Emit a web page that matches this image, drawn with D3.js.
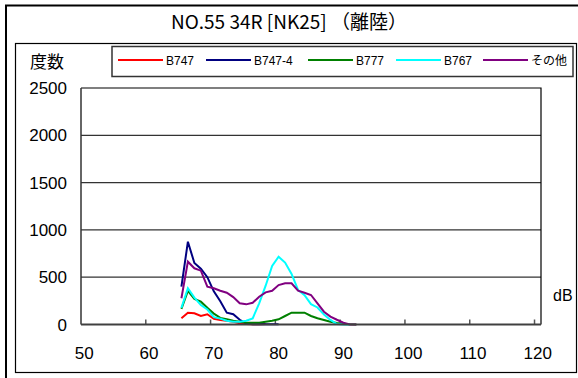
<!DOCTYPE html>
<html><head><meta charset="utf-8">
<script src="https://cdn.jsdelivr.net/npm/d3@7"></script>
<style>body{margin:0;background:#fff}svg{display:block}text{font-family:"Liberation Sans",Arial,"Noto Sans CJK JP",sans-serif;fill:#000}</style>
</head><body>
<script>
const title = "NO.55 34R [NK25] （離陸）";
const yTitle = "度数";
const xUnit = "dB";
const categories = d3.range(50, 121);          // dB categories 50..120
const xTickLabels = [50, 60, 70, 80, 90, 100, 110, 120];
const yTicks = [0, 500, 1000, 1500, 2000, 2500];
const seriesNames = ["B747", "B747-4", "B777", "B767", "その他"];
const seriesColors = ["#FF0000", "#000080", "#008000", "#00FFFF", "#800080"];
// values start at 65 dB
const startDb = 65;
const b747   = [66,125,118,90,108,60,48,40,28,13,5,2,3,5];
const b7474  = [400,875,650,590,500,350,245,125,108,50,12,3,4,3,2,3];
const b777   = [165,355,270,241,176,115,70,55,40,30,19,19,19,30,40,55,90,125,125,125,90,66,48,30,15,6,2,0];
const b767   = [176,383,285,206,158,78,62,40,30,30,40,65,224,410,620,717,655,535,365,310,215,180,105,48,5,0,0];
const others = [277,664,594,569,400,383,357,336,290,224,213,230,294,340,357,417,435,435,357,336,312,224,135,83,50,19,0,0];
const seriesValues = [b747, b7474, b777, b767, others];

const W = 578, H = 378;
const svg = d3.select("body").append("svg").attr("width", W).attr("height", H);

// frames
svg.append("path").attr("d", `M6,${H} V5.5 H${W}`).attr("fill","none").attr("stroke","#000").attr("stroke-width",2);
svg.append("rect").attr("x",15.5).attr("y",43.5).attr("width",561).attr("height",329)
  .attr("fill","none").attr("stroke","#000").attr("stroke-width",1.2);

svg.append("text").attr("x",289).attr("y",29).attr("text-anchor","middle")
  .style("font-size","19px").style("font-family","'Noto Sans CJK JP','Liberation Sans',sans-serif").text(title);

const L = 81, R = 541, T = 88, B = 324.5;
const x = d3.scaleBand().domain(categories).range([L, R]).paddingInner(0).paddingOuter(0);
const y = d3.scaleLinear().domain([0, 2500]).range([B, T]);
const cx = d => x(d) + x.bandwidth()/2;

// gridlines
svg.append("g").selectAll("line").data(yTicks.filter(v => v > 0 && v < 2500)).join("line")
  .attr("x1",L).attr("x2",R).attr("y1",d=>y(d)).attr("y2",d=>y(d))
  .attr("stroke","#333").attr("stroke-width",1.2);
// plot border
svg.append("path").attr("d",`M${L},${T} H${R} V${B}`).attr("fill","none").attr("stroke","#000").attr("stroke-width",1.2);
svg.append("line").attr("x1",L).attr("x2",L).attr("y1",T).attr("y2",B).attr("stroke","#333").attr("stroke-width",1.5);

// y labels
svg.append("g").selectAll("text").data(yTicks).join("text")
  .attr("x",67).attr("y",d=>y(d)+6).attr("text-anchor","end").style("font-size","17px").text(d=>d);

// x ticks (at category boundaries) and labels (centered on category)
svg.append("g").selectAll("line").data(xTickLabels.slice(1)).join("line")
  .attr("x1",d=>x(d)).attr("x2",d=>x(d)).attr("y1",B).attr("y2",B-5)
  .attr("stroke","#555").attr("stroke-width",1.5);
svg.append("g").selectAll("text").data(xTickLabels).join("text")
  .attr("x",d=>cx(d)).attr("y",359).attr("text-anchor","middle").style("font-size","17px").text(d=>d);

svg.append("text").attr("x",30).attr("y",68).style("font-size","17px")
  .style("font-family","'Noto Sans CJK JP',sans-serif").text(yTitle);
svg.append("text").attr("x",553).attr("y",301).style("font-size","16px").text(xUnit);

// series lines
const line = d3.line().x((v,i)=>cx(startDb+i)).y(v=>y(v));
seriesValues.forEach((vals,k)=>{
  svg.append("path").datum(vals).attr("d",line).attr("fill","none")
    .attr("stroke",seriesColors[k]).attr("stroke-width",2).attr("stroke-linejoin","miter");
});

// x axis line
svg.append("line").attr("x1",L).attr("x2",R).attr("y1",B).attr("y2",B).attr("stroke","#404040").attr("stroke-width",2.2);

// legend
svg.append("rect").attr("x",112).attr("y",46.5).attr("width",461).attr("height",30)
  .attr("fill","#fff").attr("stroke","#333").attr("stroke-width",1.5);
const legX = [118, 206, 308, 396, 483];
seriesNames.forEach((n,k)=>{
  svg.append("line").attr("x1",legX[k]).attr("x2",legX[k]+45).attr("y1",60).attr("y2",60)
    .attr("stroke",seriesColors[k]).attr("stroke-width",2);
  svg.append("text").attr("x",legX[k]+48).attr("y",64.5).style("font-size","12px")
    .style("font-family", k===4 ? "'Noto Sans CJK JP',sans-serif" : "'Liberation Sans',Arial,sans-serif").text(n);
});
</script>
</body></html>
